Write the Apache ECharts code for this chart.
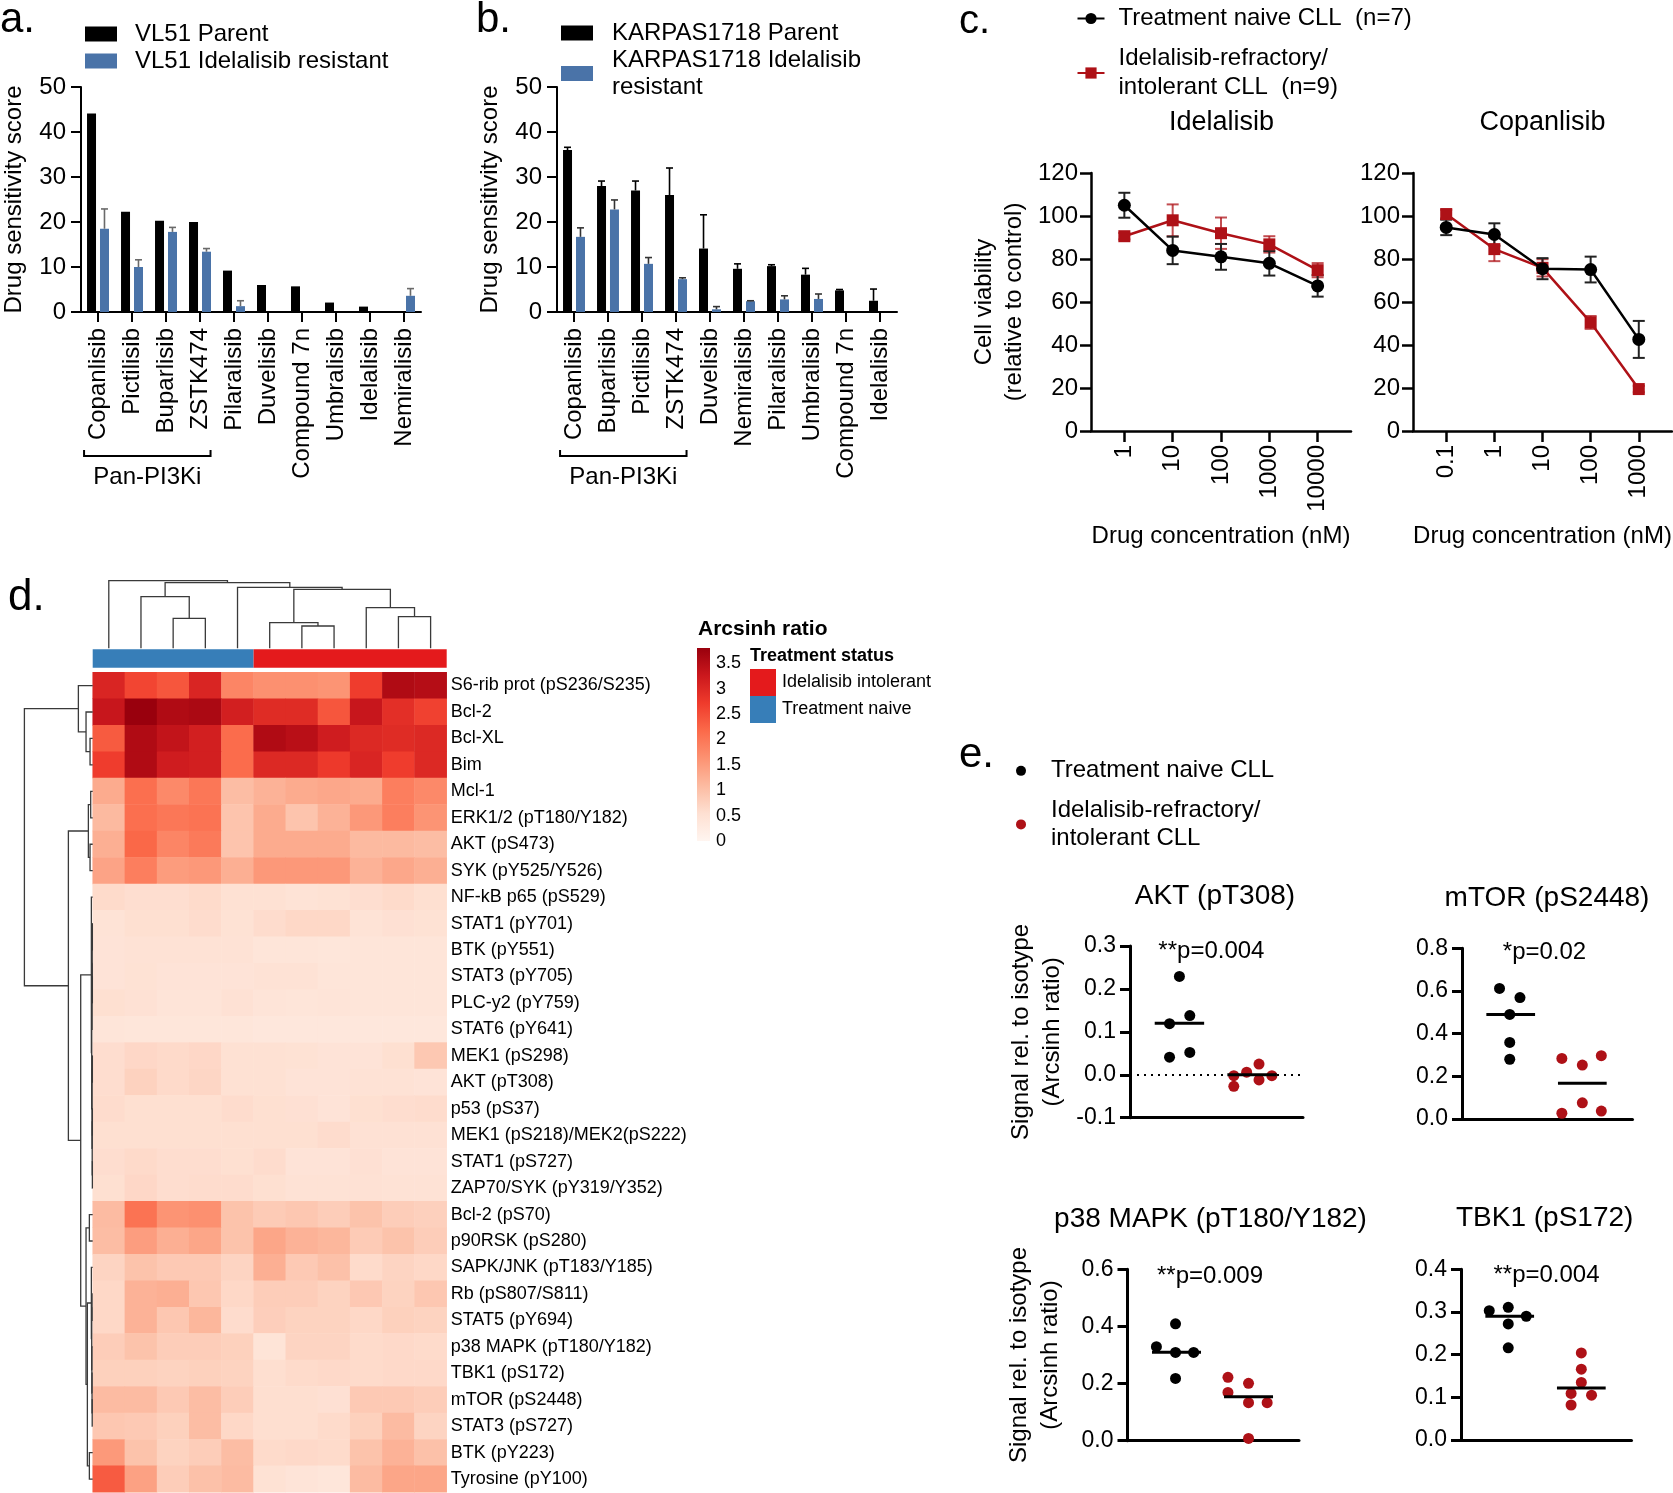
<!DOCTYPE html>
<html><head><meta charset="utf-8">
<script src="https://cdn.jsdelivr.net/npm/echarts@6/dist/echarts.min.js"></script>
<style>html,body{margin:0;padding:0;background:#fff}#chart{width:1673px;height:1493px}</style>
</head><body><div id="chart"></div>
<script>
// ---------------- Panel a ----------------
const drugsA = ['Copanlisib','Pictilisib','Buparlisib','ZSTK474','Pilaralisib','Duvelisib','Compound 7n','Umbralisib','Idelalisib','Nemiralisib'];
const parentA = [44.1, 22.3, 20.3, 20.0, 9.2, 6.0, 5.7, 2.1, 1.2, 0];
const parentErrA = [0, 0, 0, 0, 0, 0, 0, 0, 0, 0];
const resistA = [18.5, 10.0, 17.8, 13.4, 1.3, 0, 0, 0, 0, 3.6];
const resistErrA = [4.4, 1.6, 1.0, 0.7, 1.2, 0, 0, 0, 0, 1.6];
const panGroupA = [0, 3];
// ---------------- Panel b ----------------
const drugsB = ['Copanlisib','Buparlisib','Pictilisib','ZSTK474','Duvelisib','Nemiralisib','Pilaralisib','Umbralisib','Compound 7n','Idelalisib'];
const parentB = [36.0, 28.0, 27.0, 26.0, 14.1, 9.6, 10.2, 8.3, 4.8, 2.5];
const parentErrB = [0.6, 1.1, 2.1, 6.0, 7.5, 1.1, 0.3, 1.4, 0.2, 2.6];
const resistB = [16.7, 22.8, 10.7, 7.3, 0.6, 2.4, 2.8, 2.9, 0, 0];
const resistErrB = [2.0, 2.1, 1.4, 0.3, 0.6, 0.1, 0.8, 1.1, 0, 0];
const panGroupB = [0, 3];
// ---------------- Panel c ----------------
const concIdel = ['1','10','100','1000','10000'];
const concCopan = ['0.1','1','10','100','1000'];
const idelNaive = [105, 84, 81, 78, 67.5];
const idelNaiveErr = [5.8, 6.4, 6, 5.7, 5];
const idelRefr = [90.6, 98, 92, 86.8, 74.8];
const idelRefrErr = [1.5, 7.4, 7.3, 3.8, 3.3];
const copNaive = [94.7, 91.4, 75.5, 75.1, 42.6];
const copNaiveErr = [3.6, 5.2, 4.9, 6, 8.6];
const copRefr = [100.9, 84.6, 75.9, 50.5, 19.5];
const copRefrErr = [2, 5.6, 4, 3, 1.5];
// ---------------- Panel d ----------------
const rowLabels = ['S6-rib prot (pS236/S235)','Bcl-2','Bcl-XL','Bim','Mcl-1','ERK1/2 (pT180/Y182)','AKT (pS473)','SYK (pY525/Y526)','NF-kB p65 (pS529)','STAT1 (pY701)','BTK (pY551)','STAT3 (pY705)','PLC-y2 (pY759)','STAT6 (pY641)','MEK1 (pS298)','AKT (pT308)','p53 (pS37)','MEK1 (pS218)/MEK2(pS222)','STAT1 (pS727)','ZAP70/SYK (pY319/Y352)','Bcl-2 (pS70)','p90RSK (pS280)','SAPK/JNK (pT183/Y185)','Rb (pS807/S811)','STAT5 (pY694)','p38 MAPK (pT180/Y182)','TBK1 (pS172)','mTOR (pS2448)','STAT3 (pS727)','BTK (pY223)','Tyrosine (pY100)'];
const sampleStatus = ['Treatment naive','Treatment naive','Treatment naive','Treatment naive','Treatment naive','Idelalisib intolerant','Idelalisib intolerant','Idelalisib intolerant','Idelalisib intolerant','Idelalisib intolerant','Idelalisib intolerant'];
const heatValues = [
  [3.05, 2.6, 2.4, 3.05, 1.8, 1.65, 1.65, 1.6, 2.7, 3.55, 3.5],
  [3.3, 3.8, 3.55, 3.6, 3.15, 2.95, 2.95, 2.4, 3.3, 2.9, 2.65],
  [2.35, 3.55, 3.35, 3.15, 2.15, 3.55, 3.45, 3.2, 3.0, 2.95, 3.0],
  [2.7, 3.55, 3.2, 3.15, 2.15, 3.0, 3.0, 2.75, 3.05, 2.7, 3.0],
  [1.3, 2.1, 1.75, 2.0, 1.05, 1.2, 1.3, 1.35, 1.3, 1.9, 1.75],
  [1.1, 2.1, 2.0, 2.05, 0.95, 1.3, 0.95, 1.2, 1.55, 1.9, 1.6],
  [1.25, 2.2, 1.8, 1.95, 0.95, 1.3, 1.3, 1.3, 1.1, 1.1, 1.05],
  [1.4, 1.9, 1.5, 1.55, 1.25, 1.55, 1.55, 1.55, 1.2, 1.35, 1.25],
  [0.62, 0.57, 0.57, 0.62, 0.52, 0.52, 0.47, 0.5, 0.57, 0.62, 0.55],
  [0.47, 0.55, 0.55, 0.6, 0.5, 0.6, 0.66, 0.66, 0.47, 0.53, 0.5],
  [0.46, 0.48, 0.48, 0.48, 0.48, 0.42, 0.42, 0.39, 0.42, 0.42, 0.42],
  [0.46, 0.5, 0.46, 0.46, 0.46, 0.48, 0.48, 0.42, 0.42, 0.42, 0.42],
  [0.55, 0.51, 0.44, 0.44, 0.51, 0.44, 0.42, 0.44, 0.42, 0.42, 0.42],
  [0.42, 0.39, 0.39, 0.39, 0.39, 0.37, 0.37, 0.37, 0.37, 0.37, 0.37],
  [0.58, 0.67, 0.63, 0.67, 0.52, 0.52, 0.5, 0.46, 0.46, 0.55, 0.9],
  [0.58, 0.75, 0.63, 0.69, 0.52, 0.52, 0.46, 0.46, 0.48, 0.48, 0.46],
  [0.6, 0.55, 0.55, 0.55, 0.6, 0.55, 0.53, 0.46, 0.55, 0.58, 0.6],
  [0.55, 0.55, 0.55, 0.55, 0.55, 0.55, 0.55, 0.6, 0.51, 0.51, 0.51],
  [0.58, 0.63, 0.58, 0.58, 0.55, 0.6, 0.46, 0.46, 0.53, 0.46, 0.46],
  [0.55, 0.67, 0.58, 0.6, 0.6, 0.55, 0.48, 0.48, 0.51, 0.48, 0.48],
  [1.08, 2.05, 1.6, 1.65, 0.97, 0.85, 0.91, 0.82, 0.97, 0.82, 0.78],
  [1.05, 1.48, 1.25, 1.37, 0.97, 1.37, 1.2, 1.14, 0.85, 0.97, 0.82],
  [0.72, 0.97, 0.88, 0.88, 0.72, 1.25, 0.88, 1.0, 0.62, 0.72, 0.66],
  [0.66, 1.2, 1.25, 0.91, 0.66, 0.82, 0.82, 0.74, 0.89, 0.74, 0.91],
  [0.66, 1.2, 0.91, 1.14, 0.6, 0.8, 0.74, 0.74, 0.66, 0.77, 0.74],
  [0.82, 0.97, 0.82, 0.82, 0.77, 0.45, 0.72, 0.72, 0.62, 0.64, 0.62],
  [0.77, 0.77, 0.74, 0.77, 0.74, 0.56, 0.62, 0.64, 0.62, 0.64, 0.64],
  [1.08, 1.08, 0.88, 1.05, 0.82, 0.56, 0.56, 0.53, 0.88, 0.88, 0.82],
  [0.91, 0.88, 0.77, 1.05, 0.66, 0.56, 0.56, 0.62, 0.77, 1.08, 0.72],
  [1.54, 0.97, 0.74, 0.82, 1.05, 0.62, 0.64, 0.62, 0.97, 1.2, 1.0],
  [2.34, 1.43, 0.82, 1.0, 1.08, 0.5, 0.44, 0.4, 1.08, 1.37, 1.37]
];
const heatMax = 3.8;
const redsPalette = ['#fff5f0','#fee0d2','#fcbba1','#fc9272','#fb6a4a','#ef3b2c','#cb181d','#99000d'];
// dendrograms: [height, left, right]; leaves are row/column indices
const colTree = [203, 0, [197, [155, 1, [90, 2, 3]], [183, 4, [177, [77, 5, [67, 6, 7]], [122, 8, [95, 9, 10]]]]]];
const rowTree = [205,
  [43, 0, [20, 1, [8, 2, 3]]],
  [73, [13, [6, 4, 5], [8, 6, 7]],
    [36,
      [4, 8, [3, [2, [1.5, [1, 9, 10], [1, 11, 12]], 13], [2, [1, 14, 15], [1.5, [1, 16, 17], [1, 18, 19]]]]],
      [20, [10, 20, 21], [16, [4, 22, [3, [2, 23, 24], [2.5, 25, [2, 26, [1.5, 27, 28]]]]], [10, 29, 30]]]
    ]
  ]
];
// ---------------- Panel e ----------------
const groupCenters = [1.0, 2.47];
const aktNaive = [[1.0,0.229],[1.21,0.138],[0.8,0.119],[1.21,0.052],[0.8,0.041]];
const aktRefr = [[2.1,-0.002],[2.36,0.006],[2.61,0.025],[2.87,-0.002],[2.61,-0.012],[2.1,-0.027]];
const aktMedian = [0.12, 0.0];
const mtorNaive = [[0.77,0.612],[1.19,0.569],[0.98,0.49],[0.98,0.359],[0.98,0.28]];
const mtorRefr = [[2.05,0.284],[2.47,0.253],[2.86,0.297],[2.47,0.076],[2.05,0.027],[2.86,0.037]];
const mtorMedian = [0.49, 0.167];
const p38Naive = [[0.98,0.409],[0.59,0.329],[0.98,0.309],[1.35,0.309],[0.98,0.218]];
const p38Refr = [[2.05,0.222],[2.47,0.201],[2.05,0.169],[2.47,0.133],[2.85,0.133],[2.47,0.008]];
const p38Median = [0.31, 0.154];
const tbkNaive = [[0.58,0.303],[0.97,0.311],[1.34,0.29],[0.97,0.272],[0.97,0.216]];
const tbkRefr = [[2.47,0.204],[2.47,0.166],[2.47,0.135],[2.26,0.109],[2.68,0.105],[2.26,0.082]];
const tbkMedian = [0.29, 0.122];

// ================= build =================
const FONT = "'Liberation Sans', Arial, Helvetica, sans-serif";
const BLUE = '#4A73A8';
const DRED = '#AE1117';
const BAR_W = 9, BAR_GAP = 0.44;
const chart = echarts.init(document.getElementById('chart'), null, {renderer: 'canvas'});

function gridBox(l, t, w, h) { return {left: l, top: t, width: w, height: h, containLabel: false, outerBoundsMode: 'none'}; }
const grids = [
  gridBox(81, 87, 340, 225),      // 0 a
  gridBox(557, 87, 340, 225),     // 1 b
  gridBox(1091, 173, 260, 258),   // 2 c1
  gridBox(1413, 173, 259, 258),   // 3 c2
  gridBox(92.7, 672.3, 354, 820), // 4 heat
  gridBox(92.7, 649.3, 354, 18.4),// 5 status bar
  gridBox(92.7, 580.7, 354, 67.6),// 6 column dendrogram
  gridBox(24.4, 672.3, 68.3, 820),// 7 row dendrogram
  gridBox(697, 648, 13, 193),     // 8 colour bar
  gridBox(1130, 946, 173, 171.7), // 9 AKT
  gridBox(1462, 948.3, 170.5, 170.7), // 10 mTOR
  gridBox(1127.5, 1269.3, 171.5, 171.4), // 11 p38
  gridBox(1461, 1269.3, 170.5, 170.7)    // 12 TBK1
];
const ln = (w) => ({color: '#000', width: w});
function catAxisAB(g, data) {
  return {type: 'category', gridIndex: g, data,
    axisLine: {show: true, lineStyle: ln(2)},
    axisTick: {show: true, alignWithLabel: true, length: 10, lineStyle: ln(2)},
    axisLabel: {rotate: 90, interval: 0, fontSize: 24, color: '#000', margin: 16, fontFamily: FONT},
    splitLine: {show: false}};
}
function valAxisAB(g, gap) {
  return {type: 'value', gridIndex: g, min: 0, max: 50, interval: 10,
    axisLine: {show: true, onZero: false, lineStyle: ln(2)},
    axisTick: {show: true, length: 10, lineStyle: ln(2)},
    axisLabel: {fontSize: 24, color: '#000', margin: 15, fontFamily: FONT},
    splitLine: {show: false},
    name: 'Drug sensitivity score', nameLocation: 'middle', nameGap: gap, nameMoveOverlap: false,
    nameTextStyle: {fontSize: 24, color: '#000', fontFamily: FONT}};
}
function concAxis(g, labels) {
  return {type: 'value', gridIndex: g, min: -0.69, max: 4.69,
    axisLine: {show: true, onZero: false, lineStyle: ln(2.5)},
    axisTick: {show: true, customValues: [0,1,2,3,4], length: 11, lineStyle: ln(2.5)},
    axisLabel: {customValues: [0,1,2,3,4], formatter: v => labels[Math.round(v)], rotate: 90, fontSize: 24, color: '#000', margin: 14, fontFamily: FONT},
    splitLine: {show: false},
    name: 'Drug concentration (nM)', nameLocation: 'middle', nameGap: 93, nameMoveOverlap: false,
    nameTextStyle: {fontSize: 24, color: '#000', fontFamily: FONT}};
}
function viaAxis(g, withName) {
  return {type: 'value', gridIndex: g, min: 0, max: 120, interval: 20,
    axisLine: {show: true, onZero: false, lineStyle: ln(2.5)},
    axisTick: {show: true, length: 11, lineStyle: ln(2.5)},
    axisLabel: {fontSize: 24, color: '#000', margin: 13, fontFamily: FONT},
    splitLine: {show: false},
    name: withName ? 'Cell viability\n(relative to control)' : '', nameLocation: 'middle', nameGap: 62, nameMoveOverlap: false,
    nameTextStyle: {fontSize: 24, color: '#000', lineHeight: 30, fontFamily: FONT}};
}
function hiddenVal(g, min, max, inverse) { return {type: 'value', gridIndex: g, min, max, inverse: !!inverse, show: false, splitLine: {show: false}}; }
function eX(g) {
  return {type: 'value', gridIndex: g, min: 0, max: 3.5,
    axisLine: {show: true, onZero: false, lineStyle: ln(3)}, axisTick: {show: false}, axisLabel: {show: false}, splitLine: {show: false}};
}
function eY(g, min, max, interval, withName) {
  return {type: 'value', gridIndex: g, min, max, interval,
    axisLine: {show: true, onZero: false, lineStyle: ln(3)},
    axisTick: {show: true, length: 10, lineStyle: ln(3)},
    axisLabel: {fontSize: 23, color: '#000', margin: 14, formatter: v => v.toFixed(1), fontFamily: FONT},
    splitLine: {show: false},
    name: withName ? 'Signal rel. to isotype\n(Arcsinh ratio)' : '', nameLocation: 'middle', nameGap: 62, nameMoveOverlap: false,
    nameTextStyle: {fontSize: 24, color: '#000', lineHeight: 31, fontFamily: FONT}};
}

const sampleIds = sampleStatus.map((s, i) => 'S' + (i + 1));
const xAxes = [
  catAxisAB(0, drugsA), catAxisAB(1, drugsB),
  concAxis(2, concIdel), concAxis(3, concCopan),
  {type: 'category', gridIndex: 4, data: sampleIds, show: false},
  hiddenVal(5, 0, sampleStatus.length),
  hiddenVal(6, 0, sampleStatus.length),
  hiddenVal(7, 0, rowTree[0], true),
  {type: 'category', gridIndex: 8, data: ['scale'], show: false},
  eX(9), eX(10), eX(11), eX(12)
];
const yAxes = [
  valAxisAB(0, 55), valAxisAB(1, 55),
  viaAxis(2, true), viaAxis(3, false),
  {type: 'category', gridIndex: 4, data: rowLabels, inverse: true, position: 'right',
    axisLine: {show: false}, axisTick: {show: false},
    axisLabel: {fontSize: 18, color: '#000', margin: 4, fontFamily: FONT, interval: 0}},
  {type: 'category', gridIndex: 5, data: ['status'], show: false},
  hiddenVal(6, 0, colTree[0]),
  hiddenVal(7, 0, rowLabels.length, true),
  {type: 'value', gridIndex: 8, min: 0, max: heatMax, interval: 0.5, position: 'right',
    axisLine: {show: false}, axisTick: {show: false}, splitLine: {show: false},
    axisLabel: {fontSize: 18, color: '#000', margin: 6, showMaxLabel: false, fontFamily: FONT}},
  eY(9, -0.1, 0.3, 0.1, true), eY(10, 0, 0.8, 0.2, false),
  eY(11, 0, 0.6, 0.2, true), eY(12, 0, 0.4, 0.1, false)
];

// ----- render helpers -----
function errUp(offsetPx, color) {
  return function (params, api) {
    const v = api.value(1), e = api.value(2);
    if (!e) return null;
    const p0 = api.coord([api.value(0), v]);
    const p1 = api.coord([api.value(0), v + e]);
    const x = p0[0] + offsetPx;
    const st = {stroke: color, lineWidth: 1.6};
    return {type: 'group', children: [
      {type: 'line', shape: {x1: x, y1: p0[1], x2: x, y2: p1[1]}, style: st},
      {type: 'line', shape: {x1: x - 3.5, y1: p1[1], x2: x + 3.5, y2: p1[1]}, style: st}
    ]};
  };
}
function errBoth(color) {
  return function (params, api) {
    const x = api.value(0), v = api.value(1), e = api.value(2);
    const pt = api.coord([x, v + e]), pb = api.coord([x, v - e]);
    const cx = pt[0], w = 6;
    const st = {stroke: color, lineWidth: 2};
    return {type: 'group', children: [
      {type: 'line', shape: {x1: cx, y1: pt[1], x2: cx, y2: pb[1]}, style: st},
      {type: 'line', shape: {x1: cx - w, y1: pt[1], x2: cx + w, y2: pt[1]}, style: st},
      {type: 'line', shape: {x1: cx - w, y1: pb[1], x2: cx + w, y2: pb[1]}, style: st}
    ]};
  };
}
function bracketRender(params, api) {
  const a = api.coord([api.value(0), 0]), b = api.coord([api.value(1), 0]);
  const band = api.coord([1, 0])[0] - api.coord([0, 0])[0];
  const x0 = a[0] - 0.41 * band, x1 = b[0] + 0.31 * band;
  const y = a[1] + 144;
  return {type: 'group', children: [
    {type: 'polyline', shape: {points: [[x0, y - 6], [x0, y], [x1, y], [x1, y - 6]]}, style: {stroke: '#000', lineWidth: 2, fill: null}},
    {type: 'text', x: (x0 + x1) / 2, y: y + 21, style: {text: 'Pan-PI3Ki', font: '24px ' + FONT, fill: '#000', align: 'center', verticalAlign: 'middle'}}
  ]};
}
function medianRender(params, api) {
  const c = api.value(0), m = api.value(1);
  const p0 = api.coord([c - 0.5, m]), p1 = api.coord([c + 0.5, m]);
  return {type: 'line', shape: {x1: p0[0], y1: p0[1], x2: p1[0], y2: p1[1]}, style: {stroke: '#000', lineWidth: 3}};
}
function walkTree(node, out) {
  if (typeof node === 'number') return [node + 0.5, 0];
  const A = walkTree(node[1], out), B = walkTree(node[2], out);
  out.push([A[0], B[0], node[0], A[1], B[1]]);
  return [(A[0] + B[0]) / 2, node[0]];
}
const colSegs = []; walkTree(colTree, colSegs);
const rowSegs = []; walkTree(rowTree, rowSegs);
function colDendroRender(params, api) {
  const xl = api.value(0), xr = api.value(1), h = api.value(2), hl = api.value(3), hr = api.value(4);
  const pts = [api.coord([xl, hl]), api.coord([xl, h]), api.coord([xr, h]), api.coord([xr, hr])];
  return {type: 'polyline', shape: {points: pts}, style: {stroke: '#3a3a3a', lineWidth: 1.3, fill: null}};
}
function rowDendroRender(params, api) {
  const yt = api.value(0), yb = api.value(1), h = api.value(2), ht = api.value(3), hb = api.value(4);
  const pts = [api.coord([ht, yt]), api.coord([h, yt]), api.coord([h, yb]), api.coord([hb, yb])];
  return {type: 'polyline', shape: {points: pts}, style: {stroke: '#3a3a3a', lineWidth: 1.3, fill: null}};
}

const series = [];
function addBars(g, drugs, parent, parentErr, resist, resistErr, panGroup, nameP, nameR, errColR) {
  const off = BAR_W * (1 + BAR_GAP) / 2;
  series.push({type: 'bar', name: nameP, xAxisIndex: g, yAxisIndex: g, data: parent, barWidth: BAR_W, barGap: (BAR_GAP * 100) + '%', itemStyle: {color: '#000'}, z: 2});
  series.push({type: 'bar', name: nameR, xAxisIndex: g, yAxisIndex: g, data: resist, barWidth: BAR_W, barGap: (BAR_GAP * 100) + '%', itemStyle: {color: BLUE}, z: 2});
  series.push({type: 'custom', xAxisIndex: g, yAxisIndex: g, renderItem: errUp(-off, '#000'), encode: {x: 0, y: 1}, z: 3,
    data: drugs.map((d, i) => [i, parent[i], parentErr[i]])});
  series.push({type: 'custom', xAxisIndex: g, yAxisIndex: g, renderItem: errUp(off, errColR), encode: {x: 0, y: 1}, z: 3,
    data: drugs.map((d, i) => [i, resist[i], resistErr[i]])});
  series.push({type: 'custom', xAxisIndex: g, yAxisIndex: g, renderItem: bracketRender, encode: {x: [0, 1], y: 2}, clip: false, z: 3,
    data: [[panGroup[0], panGroup[1], 0]]});
}
addBars(0, drugsA, parentA, parentErrA, resistA, resistErrA, panGroupA, 'VL51 Parent', 'VL51 Idelalisib resistant', '#6a6a6a');
addBars(1, drugsB, parentB, parentErrB, resistB, resistErrB, panGroupB, 'KARPAS1718 Parent', 'KARPAS1718 Idelalisib\nresistant', '#333');

const NAIVE_C = 'Treatment naive CLL  (n=7)';
const REFR_C = 'Idelalisib-refractory/\nintolerant CLL  (n=9)';
function addViability(g, naive, naiveErr, refr, refrErr) {
  series.push({type: 'custom', xAxisIndex: g, yAxisIndex: g, renderItem: errBoth('rgba(174,17,23,0.75)'), encode: {x: 0, y: 1}, z: 2,
    data: refr.map((v, i) => [i, v, refrErr[i]])});
  series.push({type: 'custom', xAxisIndex: g, yAxisIndex: g, renderItem: errBoth('#222'), encode: {x: 0, y: 1}, z: 2,
    data: naive.map((v, i) => [i, v, naiveErr[i]])});
  series.push({type: 'line', name: REFR_C, xAxisIndex: g, yAxisIndex: g, data: refr.map((v, i) => [i, v]),
    symbol: 'rect', symbolSize: 12, itemStyle: {color: DRED, opacity: 1}, lineStyle: {color: DRED, width: 2.5}, z: 3});
  series.push({type: 'line', name: NAIVE_C, xAxisIndex: g, yAxisIndex: g, data: naive.map((v, i) => [i, v]),
    symbol: 'circle', symbolSize: 13, itemStyle: {color: '#000', opacity: 1}, lineStyle: {color: '#000', width: 2.5}, z: 4});
}
addViability(2, idelNaive, idelNaiveErr, idelRefr, idelRefrErr);
addViability(3, copNaive, copNaiveErr, copRefr, copRefrErr);

// heatmap
const heatData = [];
heatValues.forEach((row, r) => row.forEach((v, c) => heatData.push([c, r, v])));
const heatSeriesIndex = series.length;
series.push({type: 'heatmap', xAxisIndex: 4, yAxisIndex: 4, data: heatData, itemStyle: {borderWidth: 0}});
// status annotation bar
const statusNames = ['Treatment naive', 'Idelalisib intolerant'];
const statusColors = {'Treatment naive': '#377EB8', 'Idelalisib intolerant': '#E41A1C'};
statusNames.forEach(s => series.push({type: 'bar', name: s, xAxisIndex: 5, yAxisIndex: 5, stack: 'status', barWidth: '100%',
  data: [sampleStatus.filter(x => x === s).length], itemStyle: {color: statusColors[s]}}));
// dendrograms
series.push({type: 'custom', xAxisIndex: 6, yAxisIndex: 6, renderItem: colDendroRender, encode: {x: [0, 1], y: [2, 3, 4]}, data: colSegs, clip: false});
series.push({type: 'custom', xAxisIndex: 7, yAxisIndex: 7, renderItem: rowDendroRender, encode: {x: [2, 3, 4], y: [0, 1]}, data: rowSegs, clip: false});
// colour bar legend
series.push({type: 'bar', xAxisIndex: 8, yAxisIndex: 8, data: [heatMax], barWidth: '100%',
  itemStyle: {color: {type: 'linear', x: 0, y: 1, x2: 0, y2: 0, colorStops: redsPalette.map((c, i) => ({offset: i / (redsPalette.length - 1), color: c}))}}});

// panel e
const NAIVE_E = 'Treatment naive CLL';
const REFR_E = 'Idelalisib-refractory/\nintolerant CLL';
function addDots(g, naive, refr, med, zeroLine) {
  const s1 = {type: 'scatter', name: NAIVE_E, xAxisIndex: g, yAxisIndex: g, data: naive, symbolSize: 11, itemStyle: {color: '#000', opacity: 1}, z: 3};
  if (zeroLine) {
    s1.markLine = {silent: true, symbol: ['none', 'none'], label: {show: false},
      lineStyle: {type: [2, 5], color: '#000', width: 2}, data: [{yAxis: 0}]};
  }
  series.push(s1);
  series.push({type: 'scatter', name: REFR_E, xAxisIndex: g, yAxisIndex: g, data: refr, symbolSize: 11, itemStyle: {color: DRED, opacity: 1}, z: 3});
  series.push({type: 'custom', xAxisIndex: g, yAxisIndex: g, renderItem: medianRender, encode: {x: 0, y: 1}, z: 4,
    data: groupCenters.map((c, i) => [c, med[i]])});
}
addDots(9, aktNaive, aktRefr, aktMedian, true);
addDots(10, mtorNaive, mtorRefr, mtorMedian, false);
addDots(11, p38Naive, p38Refr, p38Median, false);
addDots(12, tbkNaive, tbkRefr, tbkMedian, false);

const legendText = (size, lh, padL) => ({fontSize: size, lineHeight: lh, color: '#000', fontFamily: FONT, padding: [0, 0, 0, padL]});
const legends = [
  {data: ['VL51 Parent', 'VL51 Idelalisib resistant'], left: 85, top: 20.5, orient: 'vertical', icon: 'rect',
    itemWidth: 32, itemHeight: 15, itemGap: 0, padding: 0, selectedMode: false, textStyle: legendText(24, 27, 13)},
  {data: ['KARPAS1718 Parent', 'KARPAS1718 Idelalisib\nresistant'], left: 561, top: 19.5, orient: 'vertical', icon: 'rect',
    itemWidth: 32, itemHeight: 15, itemGap: 0, padding: 0, selectedMode: false, textStyle: legendText(24, 27, 14)},
  {data: [NAIVE_C, REFR_C], left: 1076.5, top: 4, orient: 'vertical',
    itemWidth: 27, itemHeight: 14, itemGap: 11, padding: 0, selectedMode: false, textStyle: legendText(24, 29, 9)},
  {data: ['Idelalisib intolerant', 'Treatment naive'], left: 750, top: 669, orient: 'vertical', icon: 'rect',
    itemWidth: 26, itemHeight: 27, itemGap: 0, padding: 0, selectedMode: false, textStyle: legendText(18, 27, 1)},
  {data: [NAIVE_E, REFR_E], left: 1016, top: 757, orient: 'vertical', icon: 'circle',
    itemWidth: 50, itemHeight: 10, itemGap: 12, padding: 0, selectedMode: false, textStyle: legendText(24, 27.7, 0)}
];

function txt(text, x, y, size, align, bold) {
  return {type: 'text', x, y, silent: true,
    style: {text, font: (bold ? 'bold ' : '') + size + 'px ' + FONT, fill: '#000', align: align || 'left', verticalAlign: 'middle'}};
}
const graphics = [
  txt('a.', 0, 20, 42), txt('b.', 476, 20, 42), txt('c.', 959, 21.7, 40), txt('d.', 8, 597.6, 44), txt('e.', 959, 755, 42),
  txt('Idelalisib', 1221.5, 123, 27, 'center'), txt('Copanlisib', 1542.5, 123, 27, 'center'),
  txt('AKT (pT308)', 1215, 896.7, 28, 'center'), txt('mTOR (pS2448)', 1547, 898, 28, 'center'),
  txt('p38 MAPK (pT180/Y182)', 1210.5, 1219.3, 28, 'center'), txt('TBK1 (pS172)', 1544.7, 1218.3, 28, 'center'),
  txt('**p=0.004', 1211.4, 951.7, 24, 'center'), txt('*p=0.02', 1544.5, 952.7, 24, 'center'),
  txt('**p=0.009', 1210, 1276.7, 24, 'center'), txt('**p=0.004', 1546.5, 1275, 24, 'center'),
  txt('Arcsinh ratio', 698, 629, 21, 'left', true), txt('Treatment status', 750, 656, 18, 'left', true)
];

chart.setOption({
  animation: false,
  backgroundColor: '#fff',
  textStyle: {fontFamily: FONT, color: '#000'},
  grid: grids, xAxis: xAxes, yAxis: yAxes,
  legend: legends,
  visualMap: [{type: 'continuous', show: false, seriesIndex: heatSeriesIndex, dimension: 2, min: 0, max: heatMax,
    inRange: {color: redsPalette}}],
  series,
  graphic: {elements: graphics}
});
</script></body></html>
